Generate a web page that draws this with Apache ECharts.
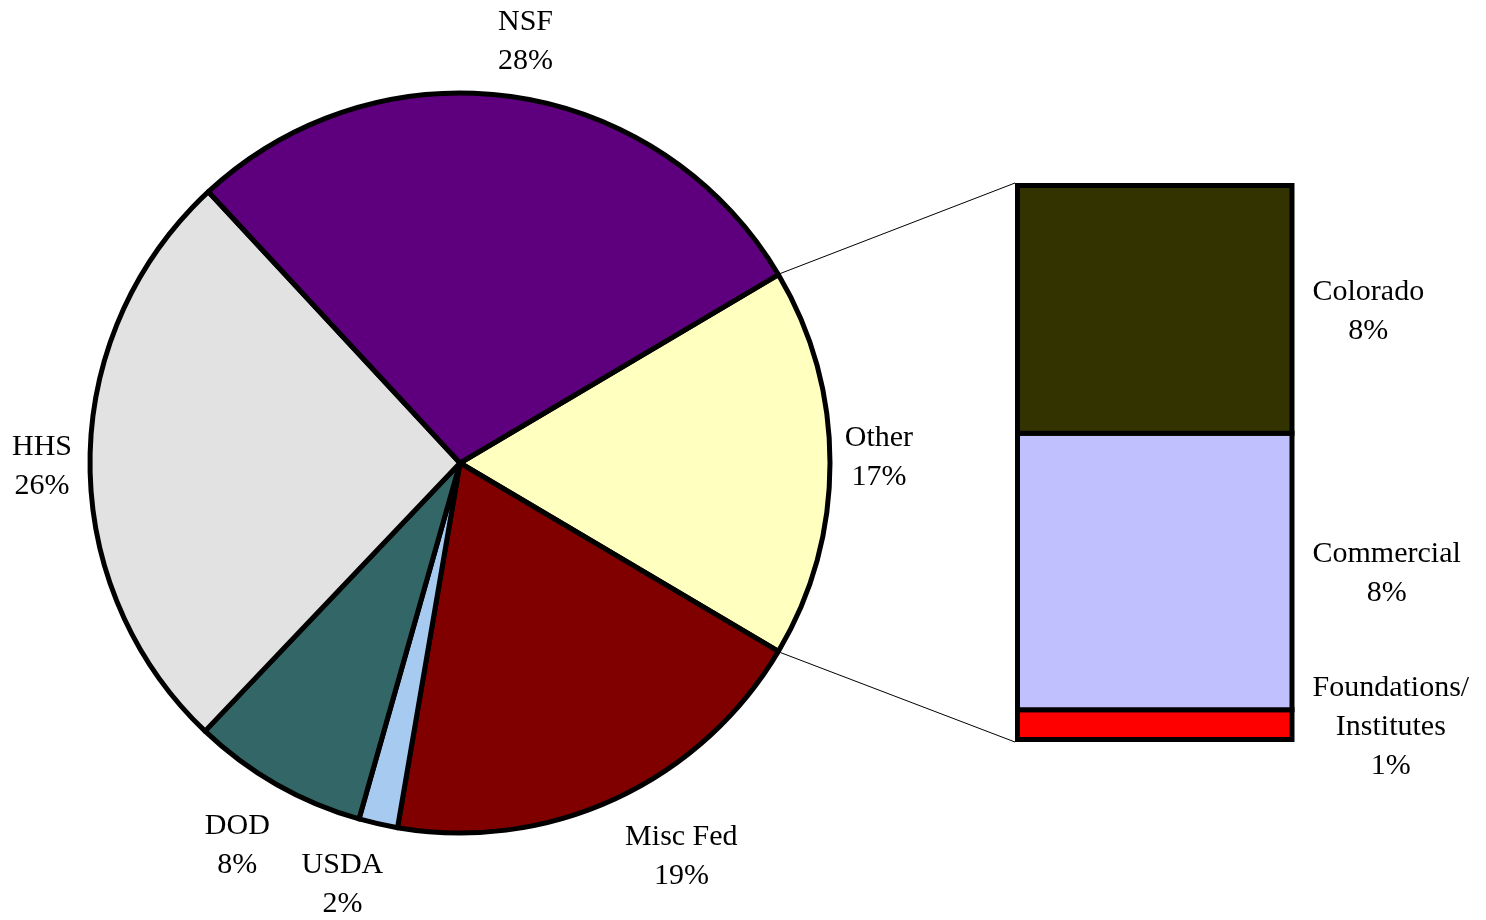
<!DOCTYPE html>
<html><head><meta charset="utf-8">
<script src="https://cdn.jsdelivr.net/npm/echarts/dist/echarts.min.js"></script>
<style>html,body{margin:0;padding:0;background:#fff}#c{width:1486px;height:920px}</style>
</head><body><div id="c"></div>
<script>
// ---- data ----
const pieNames  = ['Other', 'Misc Fed', 'USDA', 'DOD', 'HHS', 'NSF'];
const pieValues = [17.0, 19.2, 1.7, 7.7, 26.0, 28.4];
const barNames  = ['Foundations/\nInstitutes', 'Commercial', 'Colorado'];
const barValues = [0.91, 8.49, 7.6];

// ---- styles / layout ----
const pieColors = ['#FFFFC0', '#800000', '#A6CAF0', '#336666', '#E2E2E2', '#5E007E'];
const barColors = ['#FF0000', '#C0C0FF', '#333300'];
const FONT = 'Liberation Serif';
const CX = 460, CY = 463, R = 370, BW = 5, TEXT_DY = 3;
const GRID = {left: 1017.5, top: 185.5, width: 274.5, height: 554};
// label placement: [angle shift from slice middle (deg), distance beyond radius (px)]
const labelShift = [[1.1, 49], [4.7, 79], [-2.9, 65], [-0.7, 70], [0.4, 48], [-0.5, 59]];

const total = pieValues.reduce((a, b) => a + b, 0);
const startAngle = 360 * pieValues[0] / total / 2;
const midAngles = [];
let acc = startAngle;
pieValues.forEach(v => { const s = 360 * v / total; midAngles.push(acc - s / 2); acc -= s; });

const barTotal = barValues.reduce((a, b) => a + b, 0);
const barData = [];
let cum = 0;
barValues.forEach((v, i) => { barData.push([0, cum, cum + v, i]); cum += v; });

const chart = echarts.init(document.getElementById('c'));

const a0 = startAngle * Math.PI / 180;
const a1 = (startAngle - 360 * pieValues[0] / total) * Math.PI / 180;
const RO = R + BW / 2;

chart.setOption({
  animation: false,
  backgroundColor: '#fff',
  grid: GRID,
  xAxis: {type: 'category', data: ['o'], show: false},
  yAxis: {type: 'value', min: 0, max: barTotal, show: false},
  graphic: [
    {type: 'line', silent: true, shape: {x1: CX + RO * Math.cos(a0), y1: CY - RO * Math.sin(a0), x2: GRID.left - BW / 2, y2: GRID.top - BW / 2}, style: {stroke: '#000', lineWidth: 1}},
    {type: 'line', silent: true, shape: {x1: CX + RO * Math.cos(a1), y1: CY - RO * Math.sin(a1), x2: GRID.left - BW / 2, y2: GRID.top + GRID.height + BW / 2}, style: {stroke: '#000', lineWidth: 1}}
  ],
  series: [{
    type: 'pie', center: [CX, CY], radius: R, startAngle: startAngle, clockwise: true,
    avoidLabelOverlap: false, silent: true,
    data: pieNames.map((n, i) => ({name: n, value: pieValues[i], itemStyle: {color: pieColors[i]}})),
    itemStyle: {borderColor: '#000', borderWidth: BW},
    emphasis: {disabled: true},
    label: {
      show: true, position: 'outside', fontFamily: FONT, fontSize: 30, lineHeight: 39, color: '#000',
      formatter: p => p.name + '\n' + Math.round(p.value) + '%'
    },
    labelLine: {show: false},
    labelLayout: p => {
      const i = p.dataIndex;
      const ang = (midAngles[i] + labelShift[i][0]) * Math.PI / 180;
      const d = R + labelShift[i][1];
      return {x: CX + d * Math.cos(ang), y: CY - d * Math.sin(ang) + TEXT_DY, align: 'center', verticalAlign: 'middle'};
    }
  }, {
    type: 'custom', silent: true,
    data: barData,
    encode: {x: 0, y: [1, 2]},
    renderItem: (params, api) => {
      const i = api.value(3);
      const p0 = api.coord([api.value(0), api.value(1)]);
      const p1 = api.coord([api.value(0), api.value(2)]);
      const w = api.size([1, 0])[0];
      const text = barNames[i].split('\n').map(s => '{t|' + s + '}').join('\n') + '\n{t|' + Math.round(barValues[i]) + '%}';
      return {
        type: 'rect',
        shape: {x: p0[0] - w / 2, y: p1[1], width: w, height: p0[1] - p1[1]},
        style: {fill: barColors[i], stroke: '#000', lineWidth: BW},
        textContent: {
          style: {text: text, rich: {t: {align: 'center', fontFamily: FONT, fontSize: 30, lineHeight: 39, fill: '#000'}}}
        },
        textConfig: {position: 'right', distance: 18, offset: [0, TEXT_DY - 1]}
      };
    }
  }]
});
</script></body></html>
